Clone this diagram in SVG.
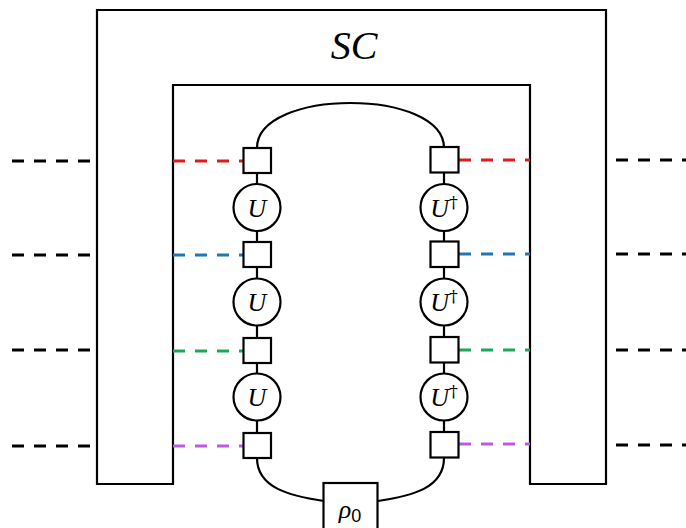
<svg xmlns="http://www.w3.org/2000/svg" width="686" height="528" viewBox="0 0 686 528">
<style>
.ln{fill:none;stroke:#000;stroke-width:2.2}
.bx{fill:#fff;stroke:#000;stroke-width:2.2}
.d{fill:none;stroke-width:3;stroke-dasharray:12 10}
.k{stroke:#000}
.r{stroke:#e31a1c}
.b{stroke:#1f77b4}
.g{stroke:#1aa85a}
.p{stroke:#bd5ae0}
.u{font-family:"Liberation Serif",serif;font-style:italic;font-size:26px;text-anchor:middle;fill:#000}
.dg{font-family:"DejaVu Serif",serif;font-style:normal;font-size:17px;fill:#000}
.sc{font-family:"Liberation Serif",serif;font-style:italic;font-size:40px;text-anchor:middle}
</style>
<rect width="686" height="528" fill="#fff"/>
<g id="SC">
<path class="ln" d="M97,10 H606 V484 H530 V85 H173 V484 H97 Z"/>
<text class="sc" x="354" y="59">SC</text>
</g>
<g id="connectors">
<line class="d k" x1="12" y1="161" x2="90" y2="161"/>
<line class="d k" x1="12" y1="255" x2="90" y2="255"/>
<line class="d k" x1="12" y1="350" x2="90" y2="350"/>
<line class="d k" x1="12" y1="446" x2="90" y2="446"/>
<line class="d k" x1="616" y1="160" x2="686" y2="160"/>
<line class="d k" x1="616" y1="254" x2="686" y2="254"/>
<line class="d k" x1="616" y1="350" x2="686" y2="350"/>
<line class="d k" x1="616" y1="445" x2="686" y2="445"/>
<line class="d r" x1="173" y1="161" x2="244" y2="161"/>
<line class="d b" x1="173" y1="255" x2="244" y2="255"/>
<line class="d g" x1="173" y1="351" x2="244" y2="351"/>
<line class="d p" x1="173" y1="446" x2="244" y2="446"/>
<line class="d r" x1="459" y1="160" x2="530" y2="160"/>
<line class="d b" x1="459" y1="254" x2="530" y2="254"/>
<line class="d g" x1="459" y1="350" x2="530" y2="350"/>
<line class="d p" x1="459" y1="444" x2="530" y2="444"/>
<path class="ln" d="M257,148 C257,88 444,88 444,148"/>
<line class="ln" x1="257" y1="148" x2="257" y2="458"/>
<line class="ln" x1="444" y1="148" x2="444" y2="458"/>
<path class="ln" d="M257,458 C257,488 290,496 324,501"/>
<path class="ln" d="M444,458 C444,488 412,496 378,501"/>
</g>
<g id="left-boxes">
<rect class="bx" x="243.5" y="148" width="27.5" height="25"/>
<rect class="bx" x="243.5" y="242" width="27.5" height="25"/>
<rect class="bx" x="243.5" y="338" width="27.5" height="25"/>
<rect class="bx" x="243.5" y="433" width="27.5" height="25"/>
</g>
<g id="right-boxes">
<rect class="bx" x="430.5" y="147" width="28" height="25.5"/>
<rect class="bx" x="430.5" y="241.5" width="28" height="25.5"/>
<rect class="bx" x="430.5" y="337" width="28" height="25.5"/>
<rect class="bx" x="430.5" y="432" width="28" height="25.5"/>
</g>
<g id="U1"><circle class="bx" cx="257" cy="207.5" r="23.5"/><text class="u" x="257" y="216.5">U</text></g>
<g id="U2"><circle class="bx" cx="257" cy="302" r="23.5"/><text class="u" x="257" y="311">U</text></g>
<g id="U3"><circle class="bx" cx="257" cy="397" r="23.5"/><text class="u" x="257" y="406">U</text></g>
<g id="Ud1"><circle class="bx" cx="444" cy="207.5" r="23.5"/><text class="u" x="444" y="216.5">U<tspan class="dg" dy="-9">†</tspan></text></g>
<g id="Ud2"><circle class="bx" cx="444" cy="302" r="23.5"/><text class="u" x="444" y="311">U<tspan class="dg" dy="-9">†</tspan></text></g>
<g id="Ud3"><circle class="bx" cx="444" cy="397" r="23.5"/><text class="u" x="444" y="406">U<tspan class="dg" dy="-9">†</tspan></text></g>
<g id="rho0">
<rect class="bx" x="323.5" y="483" width="54" height="50"/>
<text class="u" x="350" y="518">ρ<tspan font-style="normal" font-family="Liberation Sans,sans-serif" font-size="18" dy="4">0</tspan></text>
</g>
</svg>
